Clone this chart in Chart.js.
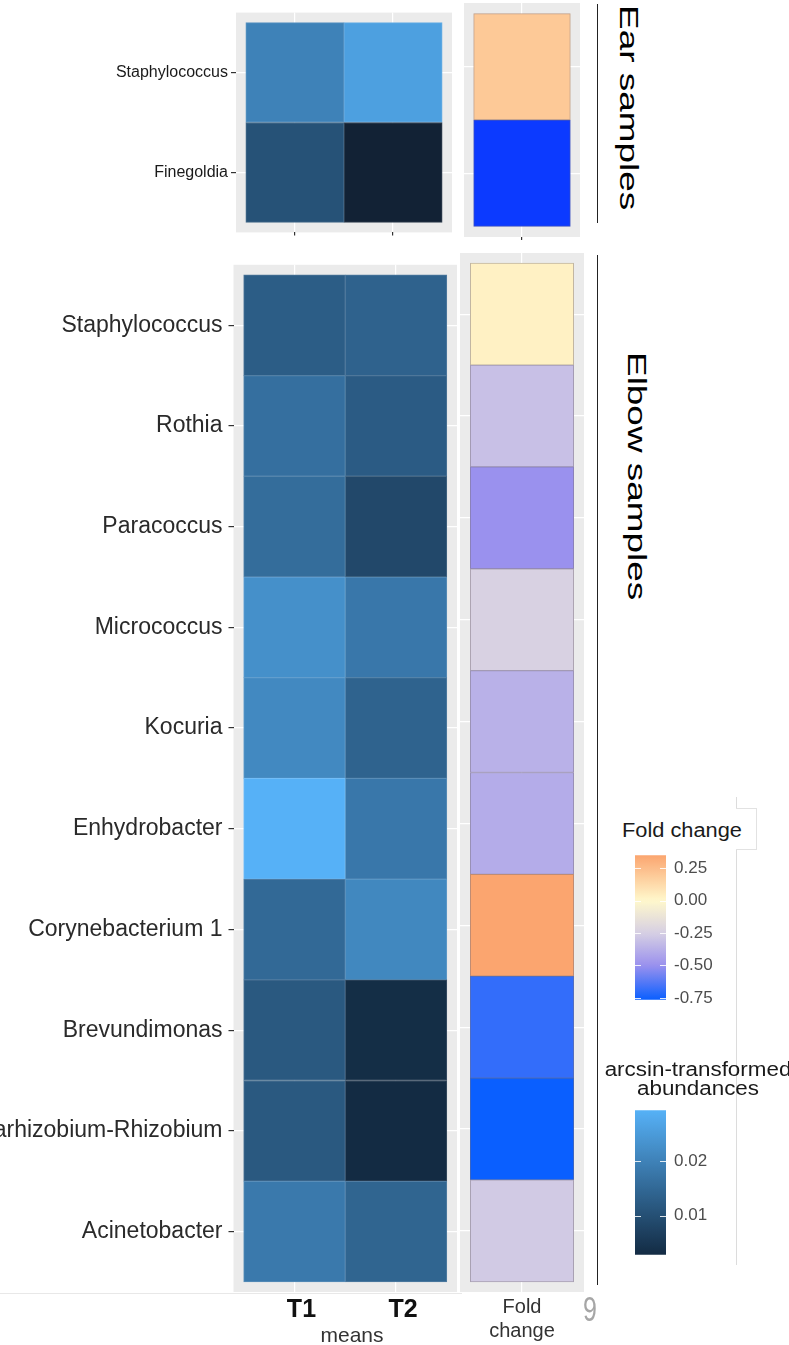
<!DOCTYPE html>
<html>
<head>
<meta charset="utf-8">
<script src="https://cdn.jsdelivr.net/npm/chart.js@4.4.1/dist/chart.umd.min.js"></script>
<style>
  html, body { margin: 0; padding: 0; background: #fff; }
  #page { position: relative; width: 789px; height: 1345px; overflow: hidden; background: #fff;
          font-family: 'Liberation Sans', Arial, Helvetica, sans-serif; }
  #page canvas { position: absolute; }
  .txt { position: absolute; white-space: nowrap; line-height: 1; }
  .rule { position: absolute; }
</style>
</head>
<body>
<div id="page">
  <div class="rule" style="left:0;top:1293px;width:462px;height:1px;background:#e8e8e8"></div>

  <canvas id="earTiles" width="460" height="245" style="left:0;top:0"></canvas>
  <canvas id="earFold" width="125" height="245" style="left:460px;top:0"></canvas>
  <canvas id="elbowTiles" width="462" height="1100" style="left:0;top:245px"></canvas>
  <canvas id="elbowFold" width="132" height="1100" style="left:456px;top:245px"></canvas>

  <div class="rule" style="left:597px;top:4px;width:1.4px;height:219px;background:#222"></div>
  <div class="rule" style="left:597px;top:255px;width:1.4px;height:1030px;background:#222"></div>

  <div class="rule" style="left:736px;top:797px;width:1px;height:468px;background:#dcdcdc"></div>
  <div class="rule" style="left:736px;top:808px;width:21px;height:42px;background:#fff;border:1px solid #e2e2e2;border-left:none;box-sizing:border-box"></div>

  <canvas id="foldBar" width="110" height="165" style="left:625px;top:845px"></canvas>
  <canvas id="abundBar" width="110" height="165" style="left:625px;top:1100px"></canvas>
</div>

<script>
// ---- values ----
const timepoints = ['T1', 'T2'];

const earGenera = ['Staphylococcus', 'Finegoldia'];
const earT1 = [0.0200, 0.0105];
const earT2 = [0.0259, 0.0016];
const earFold = [0.20, -0.80];

const elbowGenera = ['Staphylococcus', 'Rothia', 'Paracoccus', 'Micrococcus', 'Kocuria',
  'Enhydrobacter', 'Corynebacterium 1', 'Brevundimonas',
  'Allorhizobium-Neorhizobium-Pararhizobium-Rhizobium', 'Acinetobacter'];
const elbowT1 = [0.0126, 0.0163, 0.0158, 0.0227, 0.0214, 0.0293, 0.0150, 0.0118, 0.0118, 0.0182];
const elbowT2 = [0.0137, 0.0123, 0.0086, 0.0179, 0.0139, 0.0179, 0.0211, 0.0033, 0.0028, 0.0142];
const elbowFold = [0.03, -0.31, -0.50, -0.24, -0.37, -0.39, 0.35, -0.69, -0.765, -0.27];

const foldTicks = [0.25, 0, -0.25, -0.5, -0.75];
const abundanceTicks = [0.02, 0.01];

// ---- colour scales ----
const FONT = "'Liberation Sans', Arial, Helvetica, sans-serif";
const abundanceStops = [[0.0010, '#111d2e'], [0.0028, '#132b43'], [0.0293, '#56b1f7']];
const foldStops = [[-0.80, '#0c3aff'], [-0.765, '#0a5fff'], [-0.5, '#9a91ee'],
  [-0.25, '#d6cfe3'], [0, '#fff8cc'], [0.35, '#fba56f']];

function hexRgb(h) {
  const n = parseInt(h.slice(1), 16);
  return [(n >> 16) & 255, (n >> 8) & 255, n & 255];
}
function rampRgb(stops, v) {
  if (v <= stops[0][0]) return hexRgb(stops[0][1]);
  for (let i = 1; i < stops.length; i++) {
    if (v <= stops[i][0]) {
      const t = (v - stops[i - 1][0]) / (stops[i][0] - stops[i - 1][0]);
      const a = hexRgb(stops[i - 1][1]), b = hexRgb(stops[i][1]);
      return a.map((x, k) => x + (b[k] - x) * t);
    }
  }
  return hexRgb(stops[stops.length - 1][1]);
}
const css = c => `rgb(${c.map(Math.round).join(',')})`;
const mix = (c, target, w) => c.map((x, k) => x + (target[k] - x) * w);

const abundanceColour = v => css(rampRgb(abundanceStops, v));
const foldColour = v => css(rampRgb(foldStops, v));
// thin tile outlines: a paler edge on the blue tiles, a greyish edge on the fold-change tiles
const abundanceEdge = v => css(mix(rampRgb(abundanceStops, v), [255, 255, 255], 0.16));
const foldEdge = v => css(mix(rampRgb(foldStops, v), [120, 110, 120], 0.45));

// grey ggplot-style panel behind the tiles
const panelBg = {
  id: 'panelBg',
  beforeDraw(chart) {
    const { ctx, chartArea: a } = chart;
    ctx.save();
    ctx.fillStyle = '#ebebeb';
    ctx.fillRect(a.left, a.top, a.right - a.left, a.bottom - a.top);
    ctx.restore();
  }
};

// a column of tiles per series, one row per genus (floating horizontal bars)
function tiles(id, cfg) {
  const datasets = cfg.series.map((vals, c) => ({
    data: vals.map((v, i) => ({ y: i, x: [c + 0.5, c + 1.5] })),
    backgroundColor: vals.map(cfg.colour),
    borderColor: vals.map(cfg.edge),
    borderWidth: 1,
    borderSkipped: false,
    barPercentage: 1,
    categoryPercentage: 1,
    grouped: false
  }));
  return new Chart(document.getElementById(id), {
    type: 'bar',
    data: { datasets },
    options: {
      indexAxis: 'y',
      responsive: false,
      animation: false,
      events: [],
      layout: { padding: cfg.padding },
      plugins: { legend: { display: false }, tooltip: { enabled: false } },
      scales: {
        x: {
          type: 'linear', bounds: 'data', offset: false,
          min: 0.4, max: cfg.series.length + 0.6,
          afterBuildTicks: s => { s.ticks = cfg.series.map((_, c) => ({ value: c + 1 })); },
          afterFit: s => { s.height = cfg.xHeight; },
          grid: { offset: false, color: '#ffffff', lineWidth: 1.2, drawTicks: cfg.xTickLen > 0,
                  tickLength: cfg.xTickLen, tickColor: '#333' },
          border: { display: false },
          ticks: {
            display: !!cfg.xLabels, padding: cfg.xPad || 0, autoSkip: false, maxRotation: 0,
            labelOffset: cfg.xShift || 0,
            font: cfg.xFont, color: cfg.xColor || '#333',
            callback: v => cfg.xLabels ? cfg.xLabels[v - 1] : ''
          }
        },
        y: {
          type: 'linear', bounds: 'data', reverse: true, offset: false,
          min: -0.6, max: cfg.rows.length - 0.4,
          afterBuildTicks: s => { s.ticks = cfg.rows.map((_, i) => ({ value: i })); },
          afterFit: s => { s.width = cfg.yWidth; },
          grid: { offset: false, color: '#ffffff', lineWidth: 1.2, drawTicks: cfg.yTickLen > 0,
                  tickLength: cfg.yTickLen, tickColor: '#333' },
          border: { display: false },
          ticks: {
            display: !!cfg.yFont, padding: cfg.yPad || 0, autoSkip: false,
            font: cfg.yFont, color: cfg.yColor || '#333',
            callback: v => cfg.rows[v]
          }
        }
      }
    },
    plugins: [panelBg]
  });
}

// Ear samples
tiles('earTiles', {
  rows: earGenera, series: [earT1, earT2], colour: abundanceColour, edge: abundanceEdge,
  padding: { top: 3, right: 8, left: 0, bottom: 0 },
  yWidth: 236, yTickLen: 5, yPad: 3, yFont: { family: FONT, size: 16 }, yColor: '#1a1a1a',
  xHeight: 8, xTickLen: 3, xLabels: null
});
tiles('earFold', {
  rows: earGenera, series: [earFold], colour: foldColour, edge: foldEdge,
  padding: { top: 3, right: 5, left: 0, bottom: 0 },
  yWidth: 4, yTickLen: 0, yFont: null,
  xHeight: 8, xTickLen: 3, xLabels: null
});

// Elbow samples
tiles('elbowTiles', {
  rows: elbowGenera, series: [elbowT1, elbowT2], colour: abundanceColour, edge: abundanceEdge,
  padding: { top: 8, right: 5, left: 0, bottom: 0 },
  yWidth: 233.5, yTickLen: 5, yPad: 6, yFont: { family: FONT, size: 23 }, yColor: '#2a2a2a',
  xHeight: 53, xTickLen: 0, xPad: 3, xShift: 7, xLabels: timepoints,
  xFont: { family: FONT, size: 25, weight: 'bold' }, xColor: '#111'
});
tiles('elbowFold', {
  rows: elbowGenera, series: [elbowFold], colour: foldColour, edge: foldEdge,
  padding: { top: 8, right: 4, left: 0, bottom: 0 },
  yWidth: 4, yTickLen: 0, yFont: null,
  xHeight: 53, xTickLen: 0, xPad: 3, xLabels: [['Fold', 'change']],
  xFont: { family: FONT, size: 20, lineHeight: 1.2 }, xColor: '#333'
});

// colour bar legends
const barTicks = {
  id: 'barTicks',
  afterDatasetsDraw(chart) {
    const { ctx, chartArea: a } = chart;
    const s = chart.scales.y;
    ctx.save();
    ctx.strokeStyle = 'rgba(255,255,255,0.85)';
    ctx.lineWidth = 1;
    s.ticks.forEach(t => {
      const y = Math.round(s.getPixelForValue(t.value)) + 0.5;
      ctx.beginPath();
      ctx.moveTo(a.left, y); ctx.lineTo(a.left + 6, y);
      ctx.moveTo(a.right - 6, y); ctx.lineTo(a.right, y);
      ctx.stroke();
    });
    ctx.restore();
  }
};

function colourBar(id, values, tickValues, colour) {
  const lo = Math.min(...values), hi = Math.max(...values);
  return new Chart(document.getElementById(id), {
    type: 'bar',
    data: {
      labels: [''],
      datasets: [{
        data: [[lo, hi]],
        borderWidth: 0,
        barPercentage: 1,
        categoryPercentage: 1,
        backgroundColor: c => {
          const a = c.chart.chartArea;
          if (!a) return null;
          const g = c.chart.ctx.createLinearGradient(0, a.bottom, 0, a.top);
          for (let k = 0; k <= 40; k++) g.addColorStop(k / 40, colour(lo + (hi - lo) * k / 40));
          return g;
        }
      }]
    },
    options: {
      responsive: false, animation: false, events: [],
      layout: { padding: { left: 10, top: 7, bottom: 8, right: 0 } },
      plugins: { legend: { display: false }, tooltip: { enabled: false } },
      scales: {
        x: { display: false },
        y: {
          position: 'right', min: lo, max: hi, bounds: 'data',
          afterBuildTicks: s => { s.ticks = tickValues.map(v => ({ value: v })); },
          afterFit: s => { s.width = 69; },
          grid: { display: false }, border: { display: false },
          ticks: { padding: 0, font: { family: FONT, size: 17 }, color: '#4d4d4d',
                   callback: v => v.toFixed(2) }
        }
      }
    },
    plugins: [barTicks]
  });
}
colourBar('foldBar', elbowFold, foldTicks, foldColour);
colourBar('abundBar', elbowT1.concat(elbowT2), abundanceTicks, abundanceColour);

// page text
const page = document.getElementById('page');
function text(str, o) {
  const d = document.createElement('div');
  d.className = 'txt';
  d.textContent = str;
  d.style.fontSize = o.size + 'px';
  d.style.color = o.color || '#000';
  if (o.weight) d.style.fontWeight = o.weight;
  d.style.top = (o.baseline - 0.8465 * o.size) + 'px';
  if (o.center !== undefined) {
    d.style.left = (o.center - 200) + 'px';
    d.style.width = '400px';
    d.style.textAlign = 'center';
  } else {
    d.style.left = o.left + 'px';
  }
  if (o.transform) { d.style.transform = o.transform; d.style.transformOrigin = o.origin || '50% 0'; }
  page.appendChild(d);
  return d;
}
function sideTitle(str, right, top) {
  const d = document.createElement('div');
  d.className = 'txt';
  d.textContent = str;
  d.style.fontSize = '26px';
  d.style.lineHeight = '26px';
  d.style.color = '#000';
  d.style.left = right + 'px';
  d.style.top = top + 'px';
  d.style.transformOrigin = '0 0';
  d.style.transform = 'rotate(90deg) scaleX(1.42)';
  page.appendChild(d);
}
sideTitle('Ear samples', 642, 5);
sideTitle('Elbow samples', 650, 352);

text('means', { size: 21, center: 352, baseline: 1342, color: '#333' });
text('Fold change', { size: 20, left: 622, baseline: 837, color: '#1a1a1a', transform: 'scaleX(1.09)', origin: '0 0' });
text('arcsin-transformed', { size: 20, center: 698, baseline: 1076, color: '#1a1a1a', transform: 'scaleX(1.12)' });
text('abundances', { size: 20, center: 698, baseline: 1095, color: '#1a1a1a', transform: 'scaleX(1.12)' });
text('9', { size: 25, left: 583, baseline: 1313.6, color: '#a6a6a6', transform: 'scaleY(1.4)', origin: '0 0' });
</script>
</body>
</html>
